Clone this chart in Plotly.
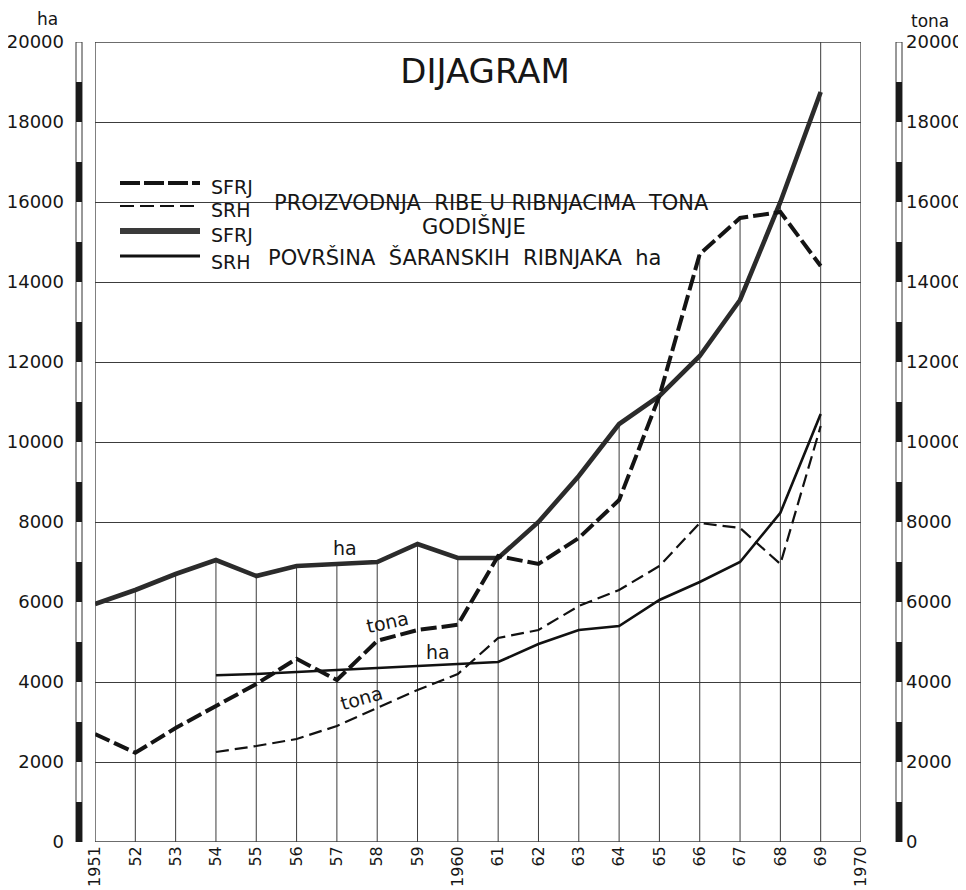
import plotly.graph_objects as go

# ---------------- data ----------------
YEARS = list(range(1951, 1970))
SRH_YEARS = list(range(1954, 1970))

SFRJ_HA = [5950, 6300, 6700, 7050, 6650, 6900, 6950, 7000, 7450, 7100,
           7100, 8000, 9150, 10450, 11150, 12150, 13550, 16000, 18750]
SFRJ_TONA = [2700, 2230, 2850, 3400, 3950, 4580, 4050, 5030, 5300, 5430,
             7150, 6950, 7600, 8550, 11150, 14700, 15600, 15750, 14400]
SRH_HA = [4170, 4200, 4250, 4300, 4350, 4400, 4450, 4500, 4950, 5300,
          5400, 6050, 6500, 7000, 8230, 10700]
SRH_TONA = [2250, 2400, 2575, 2900, 3350, 3800, 4200, 5100, 5300, 5900,
            6300, 6900, 7975, 7850, 6950, 10400]

TICK_YEARS = list(range(1951, 1971))
TICK_LABELS = ["1951", "52", "53", "54", "55", "56", "57", "58", "59", "1960",
               "61", "62", "63", "64", "65", "66", "67", "68", "69", "1970"]
Y_TICKS = list(range(0, 20001, 2000))
Y_LABELS = [str(v) for v in Y_TICKS]
FULL_HEIGHT_YEARS = [1969]
SCALE_STEP = 1000

TITLE = "DIJAGRAM"
LEG_NAMES = ["SFRJ", "SRH", "SFRJ", "SRH"]
LEG_TEXT_1 = "PROIZVODNJA\u00a0 RIBE U RIBNJACIMA\u00a0 TONA"
LEG_TEXT_2 = "GODIŠNJE"
LEG_TEXT_3 = "POVRŠINA\u00a0 ŠARANSKIH\u00a0 RIBNJAKA\u00a0 ha"

# ---------------- layout helpers ----------------
# page body has an 8px margin, so the figure starts at (8, 8) on screen
OFF = 8
SCREEN_W, SCREEN_H = 966, 890
W, H = SCREEN_W - OFF, SCREEN_H - OFF


def px(p):
    return (p - OFF) / W


def py(p):
    return 1 - (p - OFF) / H


PLOT_L, PLOT_R = 95, 861
PLOT_T, PLOT_B = 42, 842
FONT = "DejaVu Sans"
INK = "#161616"
GRID = "#3c3c3c"
Y_MIN, Y_MAX = Y_TICKS[0], Y_TICKS[-1]

fig = go.Figure()

# vertical drop lines from each year's highest point to the axis
dx, dy = [], []
for i, yr in enumerate(YEARS):
    if yr == YEARS[0]:
        continue
    vals = [SFRJ_HA[i], SFRJ_TONA[i]]
    if yr in SRH_YEARS:
        j = SRH_YEARS.index(yr)
        vals += [SRH_HA[j], SRH_TONA[j]]
    top = Y_MAX if yr in FULL_HEIGHT_YEARS else max(vals)
    dx += [yr, yr, None]
    dy += [Y_MIN, top, None]
fig.add_trace(go.Scatter(x=dx, y=dy, mode="lines", line=dict(color=GRID, width=1),
                         hoverinfo="skip", showlegend=False))

fig.add_trace(go.Scatter(x=SRH_YEARS, y=SRH_TONA, mode="lines", yaxis="y2",
                         name="SRH tona",
                         line=dict(color="#111111", width=2.2, dash="13px,6px"),
                         showlegend=False))
fig.add_trace(go.Scatter(x=SRH_YEARS, y=SRH_HA, mode="lines", name="SRH ha",
                         line=dict(color="#111111", width=2.6), showlegend=False))
fig.add_trace(go.Scatter(x=YEARS, y=SFRJ_TONA, mode="lines", yaxis="y2",
                         name="SFRJ tona",
                         line=dict(color="#141414", width=4, dash="16px,5px"),
                         showlegend=False))
fig.add_trace(go.Scatter(x=YEARS, y=SFRJ_HA, mode="lines", name="SFRJ ha",
                         line=dict(color="#2b2b2b", width=4.6), showlegend=False))

shapes = []
# plot frame
shapes.append(dict(type="rect", xref="x", yref="y", x0=TICK_YEARS[0], x1=TICK_YEARS[-1],
                   y0=Y_MIN, y1=Y_MAX, line=dict(color=GRID, width=1.3), layer="above"))
# white backing behind legend text (hides the grid line)
shapes.append(dict(type="rect", xref="paper", yref="paper", x0=px(PLOT_L + 2), x1=px(727),
                   y0=py(246), y1=py(172), fillcolor="white", line=dict(width=0),
                   layer="between"))

# scale bars next to the axes
for bx in (79, 899):
    shapes.append(dict(type="rect", xref="paper", yref="y", x0=px(bx - 3), x1=px(bx + 3),
                       y0=Y_MIN, y1=Y_MAX, fillcolor="white",
                       line=dict(color="#333", width=1)))
    v = Y_MIN
    while v < Y_MAX:
        shapes.append(dict(type="rect", xref="paper", yref="y", x0=px(bx - 3), x1=px(bx + 3),
                           y0=v, y1=v + SCALE_STEP, fillcolor="#1a1a1a",
                           line=dict(width=0)))
        v += 2 * SCALE_STEP

# legend line samples
LEG_Y = [183, 206, 231, 256]
LEG_STYLE = [dict(color="#141414", width=4, dash="20px,4px"),
             dict(color="#111111", width=2.2, dash="14px,6px"),
             dict(color="#3a3a3a", width=6),
             dict(color="#111111", width=3)]
for yy, st in zip(LEG_Y, LEG_STYLE):
    shapes.append(dict(type="line", xref="paper", yref="paper", x0=px(120), x1=px(200),
                       y0=py(yy), y1=py(yy), line=st))

annotations = []
LEG_TY = [187, 210, 235, 262]
for name, yy in zip(LEG_NAMES, LEG_TY):
    annotations.append(dict(text=name, xref="paper", yref="paper", x=px(209), y=py(yy),
                            xanchor="left", yanchor="middle", showarrow=False,
                            font=dict(family=FONT, size=19, color=INK)))
annotations.append(dict(text=LEG_TEXT_1, xref="paper", yref="paper", x=px(272), y=py(203),
                        xanchor="left", yanchor="middle", showarrow=False,
                        font=dict(family=FONT, size=21, color=INK)))
annotations.append(dict(text=LEG_TEXT_2, xref="paper", yref="paper", x=px(474), y=py(227),
                        xanchor="center", yanchor="middle", showarrow=False,
                        font=dict(family=FONT, size=21, color=INK)))
annotations.append(dict(text=LEG_TEXT_3, xref="paper", yref="paper", x=px(266), y=py(258),
                        xanchor="left", yanchor="middle", showarrow=False,
                        font=dict(family=FONT, size=21, color=INK)))

# in-chart series labels
for txt, xv, yv, ang in [("ha", 1957.2, 7350, 0), ("tona", 1958.25, 5500, -12),
                         ("ha", 1959.5, 4750, 0), ("tona", 1957.6, 3600, -16)]:
    annotations.append(dict(text=txt, xref="x", yref="y", x=xv, y=yv, textangle=ang,
                            showarrow=False, xanchor="center", yanchor="middle",
                            font=dict(family=FONT, size=19, color=INK)))

# axis unit labels
annotations.append(dict(text="ha", xref="paper", yref="paper", x=px(47), y=py(19),
                        xanchor="center", yanchor="middle",
                        showarrow=False, font=dict(family=FONT, size=17, color=INK)))
annotations.append(dict(text="tona", xref="paper", yref="paper", x=px(930), y=py(21),
                        xanchor="center", yanchor="middle",
                        showarrow=False, font=dict(family=FONT, size=17, color=INK)))

fig.update_layout(
    width=W, height=H,
    margin=dict(l=0, r=0, t=0, b=0),
    paper_bgcolor="white", plot_bgcolor="white",
    showlegend=False,
    title=dict(text=TITLE, x=px(485), y=py(71), xanchor="center", yanchor="middle",
               font=dict(family=FONT, size=34, color=INK)),
    xaxis=dict(domain=[px(PLOT_L), px(PLOT_R)], range=[TICK_YEARS[0], TICK_YEARS[-1]],
               tickvals=TICK_YEARS, ticktext=TICK_LABELS, tickangle=-90,
               showgrid=False, zeroline=False, showline=False, ticks="",
               tickfont=dict(family=FONT, size=16, color=INK), automargin=False),
    yaxis=dict(domain=[py(PLOT_B), py(PLOT_T)], range=[Y_MIN, Y_MAX],
               tickvals=Y_TICKS, ticktext=Y_LABELS,
               anchor="free", position=px(79), side="left",
               showgrid=True, gridcolor=GRID, gridwidth=1, zeroline=False,
               showline=False, ticks="", ticklabelstandoff=15,
               tickfont=dict(family=FONT, size=18, color=INK), automargin=False),
    yaxis2=dict(range=[Y_MIN, Y_MAX], matches="y", overlaying="y", side="right",
                anchor="free", position=px(899),
                tickvals=Y_TICKS, ticktext=Y_LABELS,
                showgrid=False, zeroline=False, showline=False, ticks="",
                ticklabelstandoff=6,
                tickfont=dict(family=FONT, size=18, color=INK), automargin=False),
    shapes=shapes,
    annotations=annotations,
)

fig.write_html("out.html")
